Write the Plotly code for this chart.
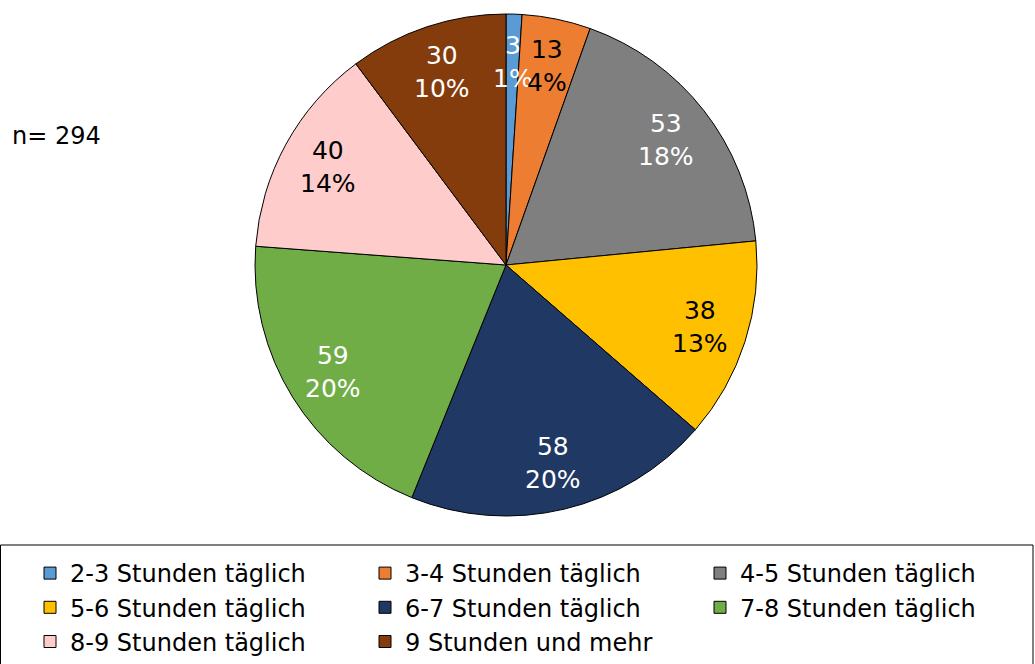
import math
import plotly.graph_objects as go

categories = ["2-3 Stunden täglich", "3-4 Stunden täglich", "4-5 Stunden täglich",
              "5-6 Stunden täglich", "6-7 Stunden täglich", "7-8 Stunden täglich",
              "8-9 Stunden täglich", "9 Stunden und mehr"]
values = [3, 13, 53, 38, 58, 59, 40, 30]
colors = ["#5B9BD5", "#ED7D31", "#7F7F7F", "#FFC000", "#203864", "#70AD47", "#FFCCCC", "#843C0C"]
label_colors = ["white", "black", "white", "black", "white", "white", "black", "white"]
sample_note = "n= 294"

W, H = 1035, 664
cx, cy, R = 506, 265, 251  # pie centre and radius in pixels

fig = go.Figure()
fig.add_trace(go.Pie(
    labels=categories, values=values, sort=False, direction="clockwise", rotation=0,
    marker=dict(colors=colors, line=dict(color="black", width=1)),
    textinfo="none", hoverinfo="label+value+percent",
    domain=dict(x=[(cx - R) / W, (cx + R) / W], y=[1 - (cy + R) / H, 1 - (cy - R) / H]),
))

# data labels, placed at the middle angle of each slice
total = sum(values)
cum = 0
annotations = []
for v, col in zip(values, label_colors):
    mid = (cum + v / 2) / total * 2 * math.pi
    cum += v
    r = 0.81 * R
    px = cx + r * math.sin(mid)
    py = cy - r * math.cos(mid)
    pct = round(v / total * 100)
    annotations.append(dict(
        x=px / W, y=1 - py / H, xref="paper", yref="paper", showarrow=False,
        text=f"{v}<br>{pct}%", font=dict(size=25, color=col, family="DejaVu Sans"),
        xanchor="center", yanchor="middle", align="center",
    ))
annotations.append(dict(x=10 / W, y=1 - 136 / H, xref="paper", yref="paper", showarrow=False,
                        text=sample_note, xanchor="left", yanchor="middle",
                        font=dict(size=24, color="black", family="DejaVu Sans")))

fig.update_layout(
    width=W, height=H, margin=dict(l=0, r=0, t=0, b=0),
    paper_bgcolor="white", plot_bgcolor="white",
    font=dict(family="DejaVu Sans", size=24, color="black"),
    annotations=annotations,
    showlegend=True,
    legend=dict(orientation="h", x=30 / W, xanchor="left", y=1 - 551 / H, yanchor="top",
                entrywidth=290, entrywidthmode="pixels", traceorder="normal",
                font=dict(size=24, family="DejaVu Sans", color="black"),
                bgcolor="rgba(0,0,0,0)", borderwidth=0),
    shapes=[dict(type="rect", xref="paper", yref="paper", x0=0.5 / W, x1=1033 / W,
                 y0=-0.05, y1=1 - 545 / H, line=dict(color="black", width=1))],
)

fig.write_html("out.html", config={"displayModeBar": False},
               post_script="document.body.style.margin='0';")
